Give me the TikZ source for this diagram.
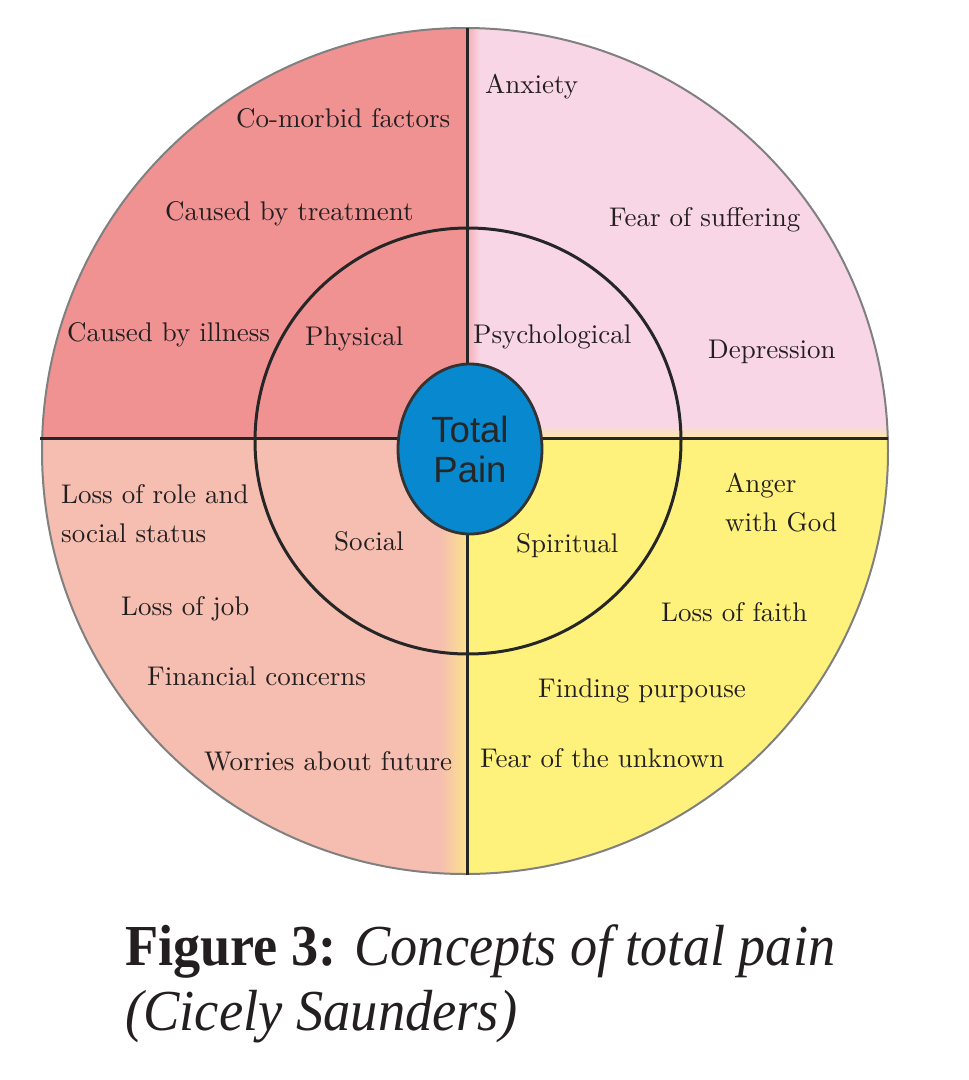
\documentclass[tikz,border=0pt]{standalone}
\usepackage{fontspec}
\usetikzlibrary{shapes.geometric}
\newfontfamily\capfont{Liberation Serif}
\newfontfamily\tpfont{Liberation Sans}
\newfontfamily\lblfont[Extension=.otf]{lmroman10-regular}
\definecolor{tlred}{RGB}{241,146,146}
\definecolor{trpink}{RGB}{248,214,230}
\definecolor{blpeach}{RGB}{245,190,176}
\definecolor{bryellow}{RGB}{255,242,124}
\definecolor{tpblue}{RGB}{8,136,206}
\definecolor{txt}{RGB}{35,31,32}
\begin{document}
\begin{tikzpicture}[x=1pt,y=-1pt,
  lbl/.style={font=\lblfont\fontsize{27}{32}\selectfont, text=txt, inner sep=0pt, anchor=base west},
  divline/.style={line width=3pt, black!85},
  ring/.style={line width=3pt, black!85}]
\useasboundingbox (0,0) rectangle (969,1080);
% quadrants
\begin{scope}
  \clip (465,451) circle (423);
  \fill[tlred] (0,0) rectangle (467,438);
  \fill[trpink] (467,0) rectangle (969,438);
  \fill[blpeach] (0,438) rectangle (467,1000);
  \fill[bryellow] (467,438) rectangle (969,1000);
  \shade[left color=blpeach, right color=bryellow!70!blpeach] (440,438) rectangle (467,1000);
  \shade[left color=tlred!60!trpink, right color=trpink] (467,0) rectangle (480,438);
  \shade[top color=trpink, bottom color=bryellow!60!trpink] (467,425) rectangle (969,438);
\end{scope}
\draw[line width=2pt, black!50] (465,451) circle (423);
% dividers
\draw[divline] (40,438) -- (888,438);
\draw[divline] (467,28) -- (467,875);
% inner ring
\draw[ring] (468,441) circle (213);
% centre
\node[ellipse, draw=black!80, line width=2.8pt, fill=tpblue, minimum width=144pt, minimum height=170pt, inner sep=0pt,
  font=\tpfont\fontsize{36.5}{40}\selectfont, text=black!85, align=center] (tp) at (470,449) {Total\\Pain};
% labels
\node[lbl] (anx) at (485,93) {Anxiety};
\node[lbl] (como) at (236,127) {Co-morbid factors};
\node[lbl] (treat) at (165,220) {Caused by treatment};
\node[lbl] (fear) at (609,226) {Fear of suffering};
\node[lbl] (ill) at (67,341) {Caused by illness};
\node[lbl] (phys) at (305,345) {Physical};
\node[lbl] (psych) at (473,343) {Psychological};
\node[lbl] (dep) at (708,358) {Depression};
\node[lbl] (role1) at (61,503) {Loss of role and};
\node[lbl] (role2) at (61,542) {social status};
\node[lbl] (soc) at (334,550) {Social};
\node[lbl] (spir) at (516,552) {Spiritual};
\node[lbl] (ang1) at (725,492) {Anger};
\node[lbl] (ang2) at (725,531) {with God};
\node[lbl] (faith) at (661,621) {Loss of faith};
\node[lbl] (job) at (121,615) {Loss of job};
\node[lbl] (fin) at (147,685) {Financial concerns};
\node[lbl] (purp) at (538,697) {Finding purpouse};
\node[lbl] (worry) at (204,770) {Worries about future};
\node[lbl] (unk) at (480,767) {Fear of the unknown};
% caption
\node[anchor=base west, inner sep=0pt, text=txt, font=\capfont\fontsize{58}{60}\selectfont] (cap1) at (125,965)
  {\scalebox{0.935}[1]{\textbf{Figure 3:} \textit{Concepts of total pain}}};
\node[anchor=base west, inner sep=0pt, text=txt, font=\capfont\fontsize{58}{60}\selectfont] (cap2) at (125,1030)
  {\scalebox{0.94}[1]{\textit{(Cicely Saunders)}}};
\end{tikzpicture}
\end{document}
